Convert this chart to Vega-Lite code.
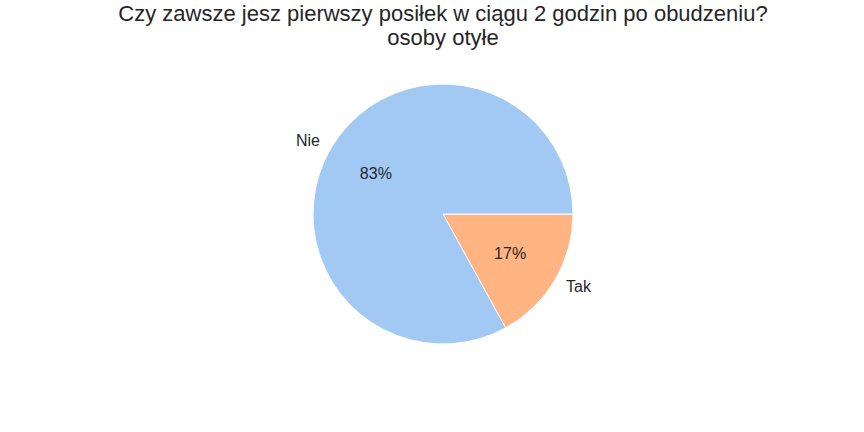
{
  "$schema": "https://vega.github.io/schema/vega-lite/v6.json",
  "width": 842,
  "height": 308,
  "autosize": {"type": "none"},
  "padding": {"left": 22, "top": 60, "right": 0, "bottom": 0},
  "background": "white",
  "view": {"stroke": null},
  "title": {
    "text": ["Czy zawsze jesz pierwszy posiłek w ciągu 2 godzin po obudzeniu?", "osoby otyłe"],
    "fontSize": 22,
    "font": "Liberation Sans",
    "fontWeight": "normal",
    "color": "#262626",
    "anchor": "middle",
    "lineHeight": 24,
    "offset": 10
  },
  "data": {
    "values": [
      {"kategoria": "Tak", "wartosc": 17, "ord": 1, "pct": "17%", "lewy": "Tak", "prawy": ""},
      {"kategoria": "Nie", "wartosc": 83, "ord": 2, "pct": "83%", "lewy": "", "prawy": "Nie"}
    ]
  },
  "encoding": {
    "theta": {"field": "wartosc", "type": "quantitative", "stack": true, "scale": {"range": [1.5707963, 7.8539816]}},
    "order": {"field": "ord", "type": "quantitative"}
  },
  "layer": [
    {
      "mark": {"type": "arc", "outerRadius": 130, "stroke": "white", "strokeWidth": 1},
      "encoding": {
        "color": {"field": "kategoria", "type": "nominal", "scale": {"domain": ["Nie", "Tak"], "range": ["#a1c9f4", "#ffb482"]}, "legend": null}
      }
    },
    {
      "mark": {"type": "text", "radius": 78, "fontSize": 16, "font": "Liberation Sans", "color": "#262626", "baseline": "middle", "align": "center"},
      "encoding": {"text": {"field": "pct", "type": "nominal"}}
    },
    {
      "mark": {"type": "text", "radius": 143, "fontSize": 16, "font": "Liberation Sans", "color": "#262626", "baseline": "middle", "align": "left"},
      "encoding": {"text": {"field": "lewy", "type": "nominal"}}
    },
    {
      "mark": {"type": "text", "radius": 143, "fontSize": 16, "font": "Liberation Sans", "color": "#262626", "baseline": "middle", "align": "right"},
      "encoding": {"text": {"field": "prawy", "type": "nominal"}}
    }
  ]
}
